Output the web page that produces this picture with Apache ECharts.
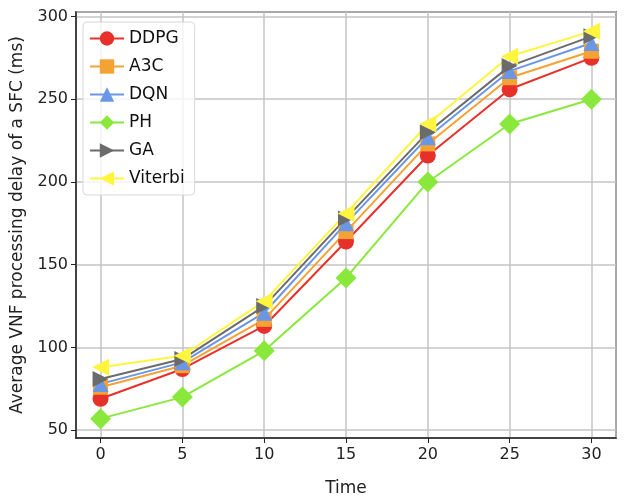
<!DOCTYPE html>
<html lang="en">
<head>
    <meta charset="UTF-8">
    <title>VNF processing delay</title>
    <script src="https://cdn.jsdelivr.net/npm/echarts@6/dist/echarts.min.js"></script>
    <style>
        body {
            margin: 0;
            background: #fff;
        }
        #chart {
            width: 630px;
            height: 503px;
        }
    </style>
</head>
<body>
<div id="chart"></div>
<script>
    // values
    let times = [0, 5, 10, 15, 20, 25, 30];
    let names = ['DDPG', 'A3C', 'DQN', 'PH', 'GA', 'Viterbi'];
    let ddpg = [69, 87, 113, 164, 216, 256, 275];
    let a3c = [76, 89, 117, 170, 223, 263, 279];
    let dqn = [78, 91, 121, 175, 227, 267, 284];
    let ph = [57, 70, 98, 142, 200, 235, 250];
    let ga = [81, 93, 125, 178, 230, 270, 288];
    let viterbi = [88, 95, 128, 181, 235, 276, 291];

    let colors = ['#e8302a', '#f5a234', '#6a96e6', '#8ae83c', '#6b6b6b', '#fff53f'];
    let symbols = [
        'circle',
        'rect',
        'triangle',
        'diamond',
        'path://M0,0 L10,5 L0,10 Z',
        'path://M10,0 L0,5 L10,10 Z'
    ];
    let sizes = [16, 15, 16, 21, 16, 17];
    let allValues = [ddpg, a3c, dqn, ph, ga, viterbi];

    function pairs(vals) {
        return times.map(function (t, i) {
            return [t, vals[i]];
        });
    }

    let font = 'DejaVu Sans';
    let myChart = echarts.init(document.getElementById('chart'));
    let option = {
        animation: false,
        color: colors,
        textStyle: {fontFamily: font},
        grid: {
            left: 76,
            right: 14,
            top: 12,
            bottom: 65,
            show: true,
            borderColor: '#222',
            borderWidth: 1.5,
            backgroundColor: 'transparent'
        },
        legend: {
            orient: 'vertical',
            left: 83,
            top: 22,
            data: names,
            itemWidth: 34,
            itemHeight: 18,
            itemGap: 11,
            padding: [8, 10, 8, 6],
            borderColor: '#d8d8d8',
            borderWidth: 1,
            borderRadius: 4,
            backgroundColor: 'rgba(255,255,255,0.8)',
            textStyle: {
                fontFamily: font,
                fontSize: 17,
                color: '#111'
            }
        },
        xAxis: {
            type: 'value',
            min: -1.5,
            max: 31.5,
            name: 'Time',
            nameLocation: 'middle',
            nameGap: 42,
            nameTextStyle: {fontSize: 17, color: '#222', fontFamily: font},
            axisLine: {onZero: false, lineStyle: {color: '#222', width: 1.5}},
            axisTick: {length: 5, lineStyle: {color: '#222'}},
            axisLabel: {
                fontSize: 16,
                color: '#222',
                margin: 9,
                showMinLabel: false,
                showMaxLabel: false
            },
            splitLine: {show: true, lineStyle: {color: '#c4c4c4', width: 1.5}}
        },
        yAxis: {
            type: 'value',
            min: 45.3,
            max: 302.7,
            name: 'Average VNF processing delay of a SFC (ms)',
            nameLocation: 'middle',
            nameGap: 50,
            nameTextStyle: {fontSize: 17, color: '#222', fontFamily: font},
            axisLine: {show: true, onZero: false, lineStyle: {color: '#222', width: 1.5}},
            axisTick: {show: true, length: 5, lineStyle: {color: '#222'}},
            axisLabel: {
                fontSize: 16,
                color: '#222',
                margin: 8,
                showMinLabel: false,
                showMaxLabel: false
            },
            splitLine: {show: true, lineStyle: {color: '#c4c4c4', width: 1.5}}
        },
        series: names.map(function (n, i) {
            return {
                name: n,
                type: 'line',
                data: pairs(allValues[i]),
                symbol: symbols[i],
                symbolSize: sizes[i],
                lineStyle: {width: 2},
                itemStyle: {color: colors[i]}
            };
        })
    };
    myChart.setOption(option);
</script>
</body>
</html>
